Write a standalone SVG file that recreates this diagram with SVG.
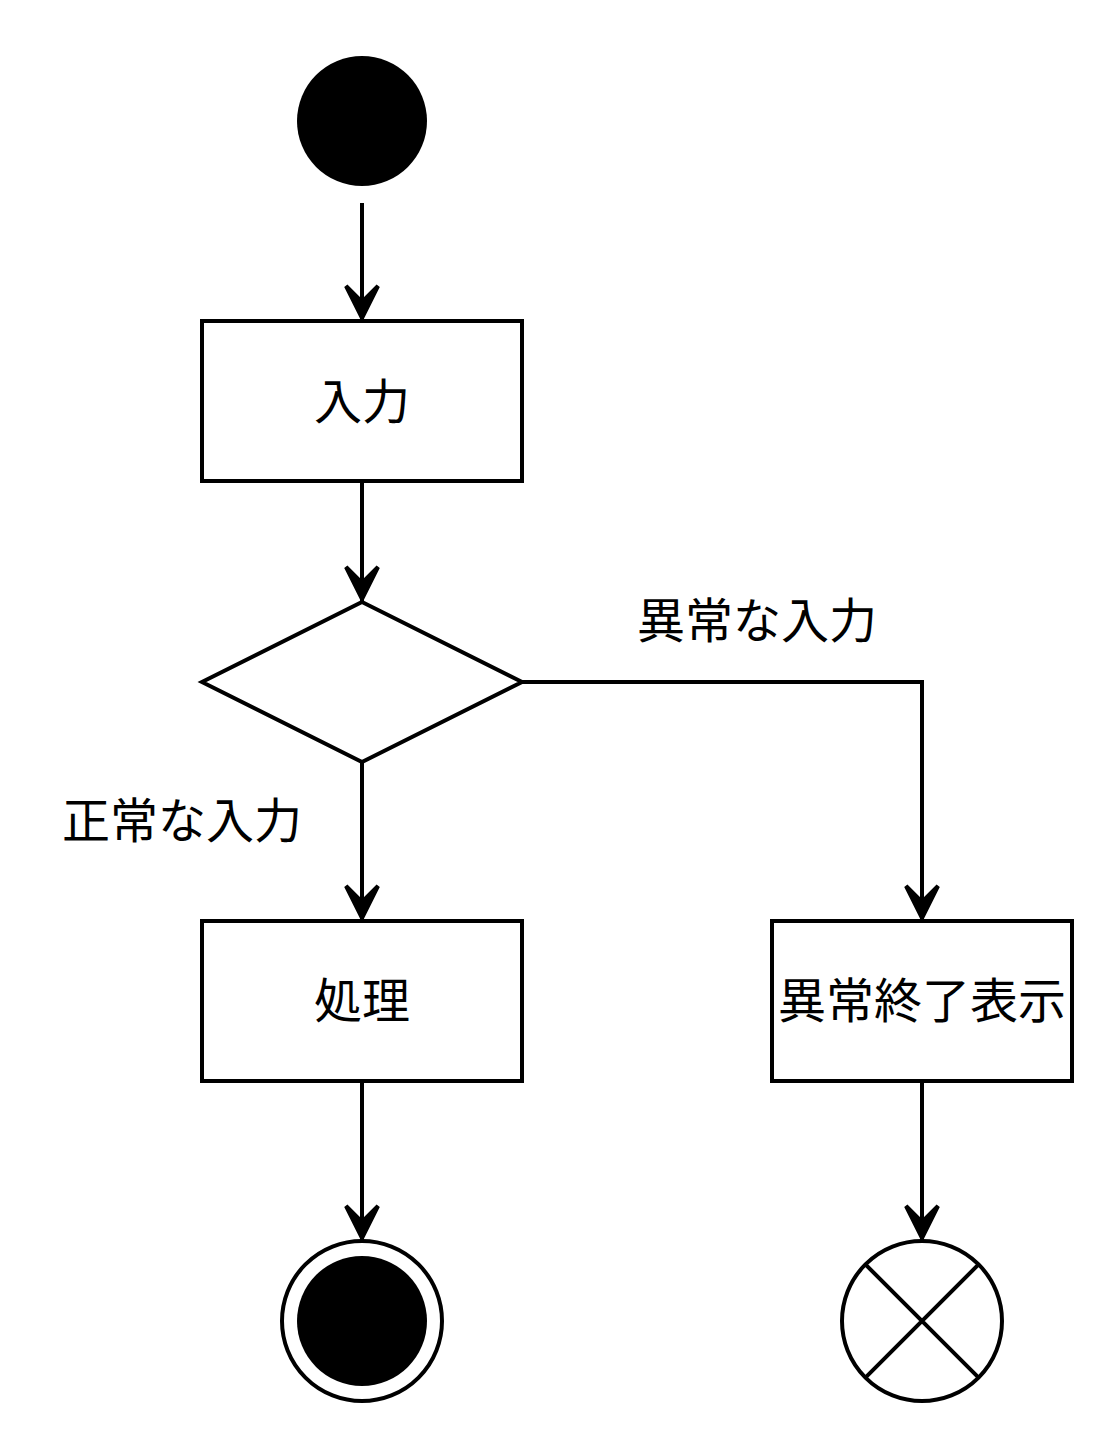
<svg xmlns="http://www.w3.org/2000/svg" width="1116" height="1448" viewBox="0 0 1116 1448">
<style>
.n{fill:#fff;stroke:#000;stroke-width:4}
.c{fill:none;stroke:#000;stroke-width:4}
.t{font-family:"Liberation Sans","Noto Sans CJK JP",sans-serif;font-size:48px;fill:#000;text-anchor:middle;dominant-baseline:central}
</style>
<defs>
<marker id="a" markerUnits="userSpaceOnUse" markerWidth="44" markerHeight="44" viewBox="-40 -22 44 44" refX="0" refY="0" orient="auto">
<path d="M-2,0 L-34,-16 L-18,0 L-34,16 Z" fill="#000" stroke="#000" stroke-width="4" stroke-linejoin="miter"/>
</marker>
</defs>
<rect width="1116" height="1448" fill="#fff"/>
<g id="connectors">
<path class="c" d="M362,203 V320" marker-end="url(#a)"/>
<path class="c" d="M362,481 V601" marker-end="url(#a)"/>
<path class="c" d="M362,762 V920" marker-end="url(#a)"/>
<path class="c" d="M522,682 H922 V920" marker-end="url(#a)"/>
<path class="c" d="M362,1081 V1240" marker-end="url(#a)"/>
<path class="c" d="M922,1081 V1240" marker-end="url(#a)"/>
<text class="t" x="757" y="621">異常な入力</text>
<text class="t" x="182" y="821">正常な入力</text>
</g>
<g id="start"><circle cx="362" cy="121" r="65" fill="#000"/></g>
<g id="input"><rect class="n" x="202" y="321" width="320" height="160"/><text class="t" x="362" y="402">入力</text></g>
<g id="decision"><path class="n" d="M362,602 L522,682 L362,762 L202,682 Z"/></g>
<g id="process"><rect class="n" x="202" y="921" width="320" height="160"/><text class="t" x="362" y="1001">処理</text></g>
<g id="error"><rect class="n" x="772" y="921" width="300" height="160"/><text class="t" x="922" y="1001">異常終了表示</text></g>
<g id="end"><circle class="n" cx="362" cy="1321" r="80"/><circle cx="362" cy="1321" r="65" fill="#000"/></g>
<g id="flowend"><circle class="n" cx="922" cy="1321" r="80"/><path class="c" d="M865.4,1264.4 L978.6,1377.6 M978.6,1264.4 L865.4,1377.6"/></g>
</svg>
